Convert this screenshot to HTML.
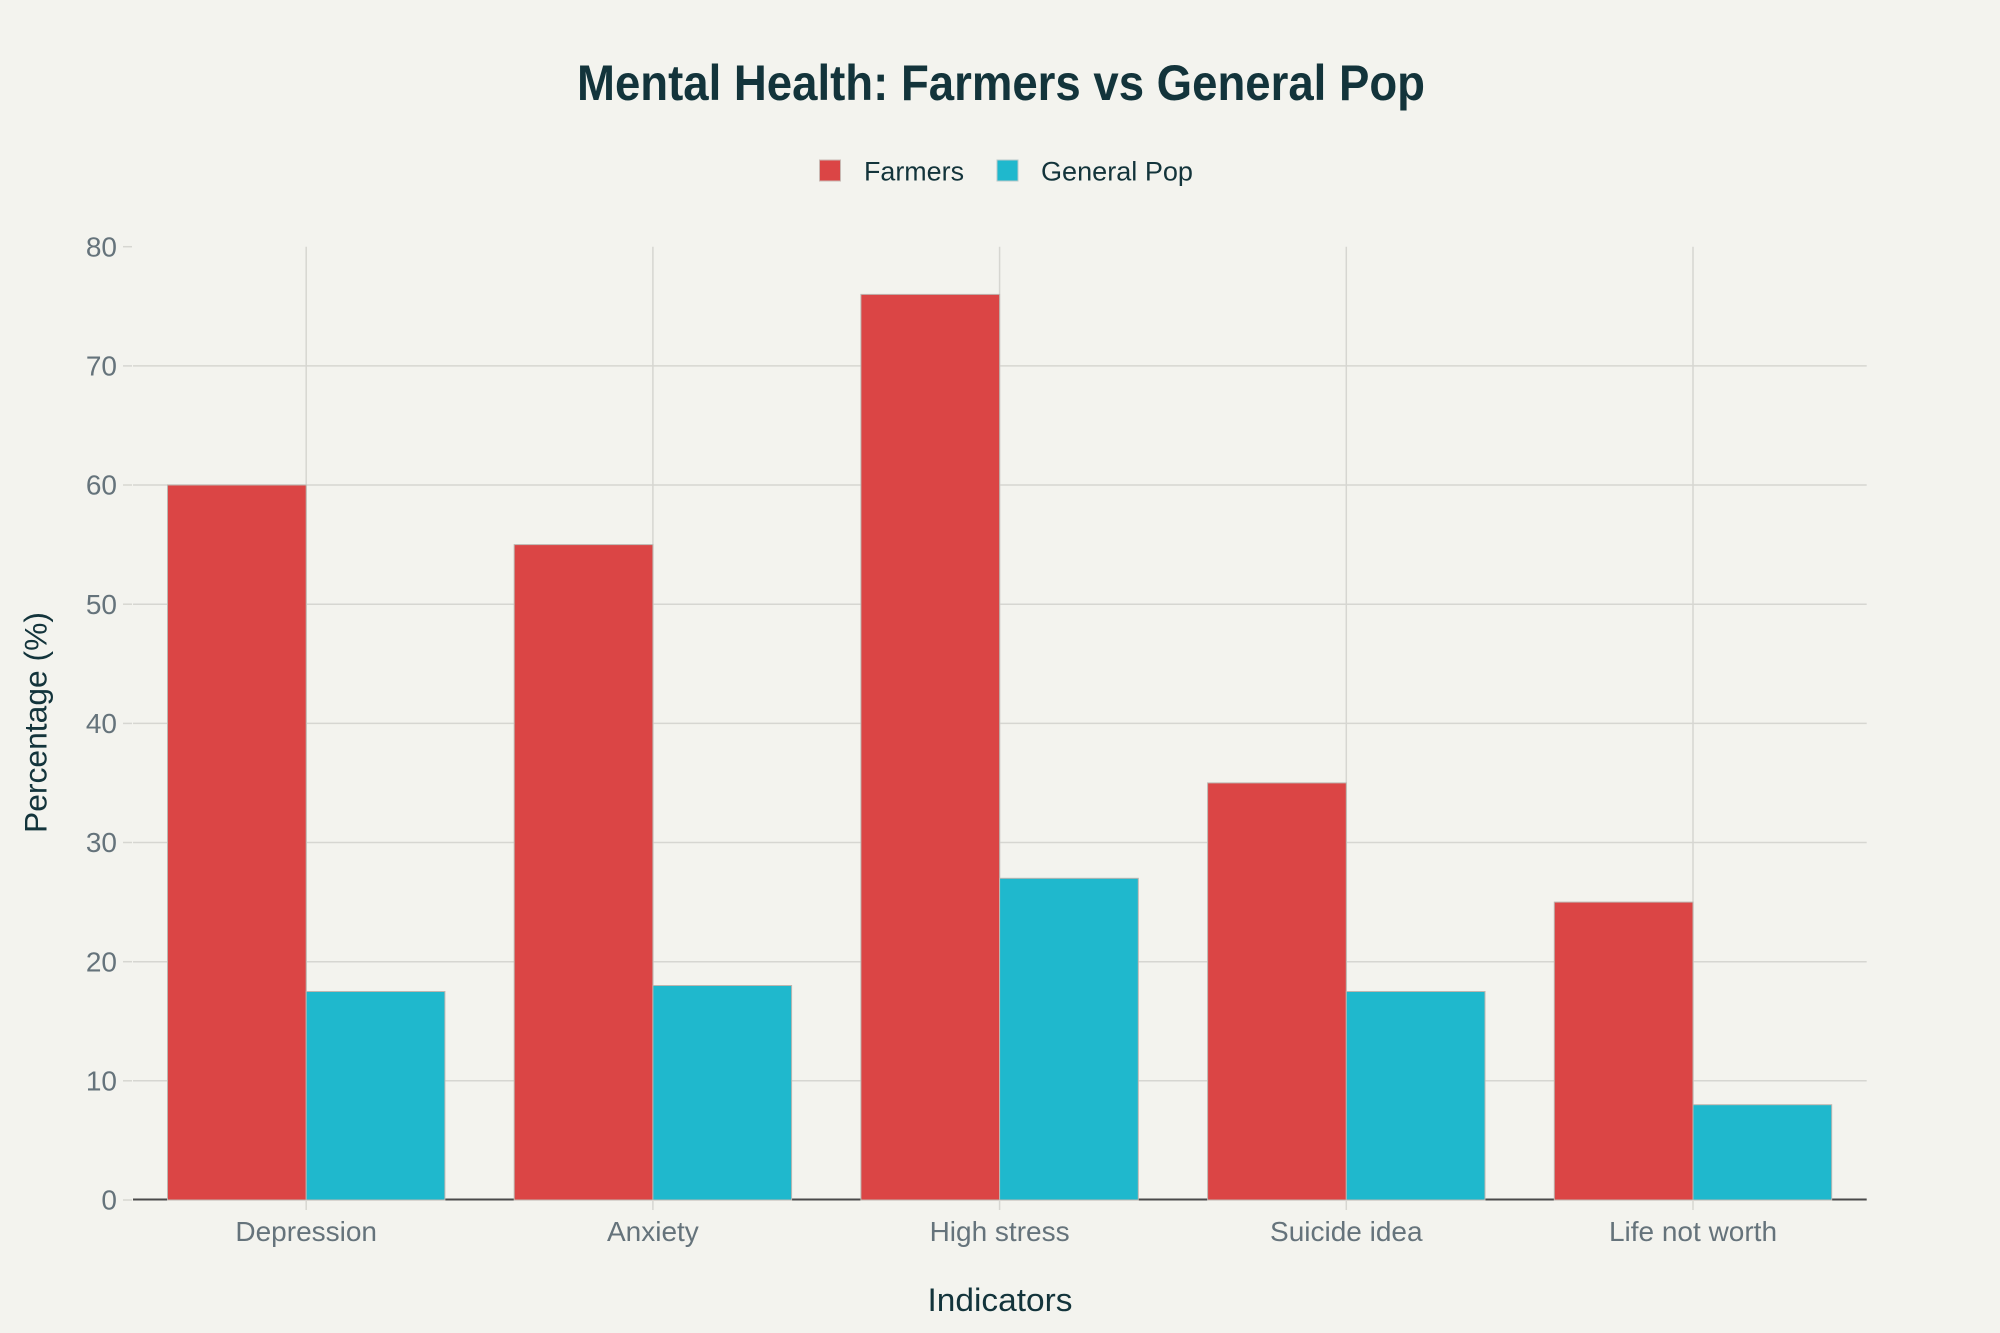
<!DOCTYPE html>
<html>
<head>
<meta charset="utf-8">
<style>
  html,body{margin:0;padding:0;background:#F3F3EE;}
  svg{display:block;}
</style>
</head>
<body>
<svg width="2000" height="1333" viewBox="0 0 2000 1333" xmlns="http://www.w3.org/2000/svg" font-family="'Liberation Sans', Arial, sans-serif">
  <rect x="0" y="0" width="2000" height="1333" fill="#F3F3EE"/>

  <!-- Title -->
  <text x="1001" y="100" text-anchor="middle" font-size="50" font-weight="bold" fill="#13343B" textLength="848" lengthAdjust="spacingAndGlyphs">Mental Health: Farmers vs General Pop</text>

  <!-- Legend -->
  <rect x="819.5" y="160" width="21" height="21" fill="#DB4545" stroke="#c9b9b4" stroke-width="1"/>
  <text x="864" y="180.7" font-size="27" fill="#13343B" textLength="100" lengthAdjust="spacingAndGlyphs">Farmers</text>
  <rect x="997" y="160" width="21" height="21" fill="#1FB8CD" stroke="#b9c9c9" stroke-width="1"/>
  <text x="1041" y="180.7" font-size="27" fill="#13343B" textLength="152" lengthAdjust="spacingAndGlyphs">General Pop</text>

  <!-- Horizontal gridlines -->
  <g stroke="#D6D6D1" stroke-width="1.5">
    <line x1="133" y1="1080.8" x2="1866.7" y2="1080.8"/>
    <line x1="133" y1="961.7" x2="1866.7" y2="961.7"/>
    <line x1="133" y1="842.5" x2="1866.7" y2="842.5"/>
    <line x1="133" y1="723.4" x2="1866.7" y2="723.4"/>
    <line x1="133" y1="604.2" x2="1866.7" y2="604.2"/>
    <line x1="133" y1="485.0" x2="1866.7" y2="485.0"/>
    <line x1="133" y1="365.9" x2="1866.7" y2="365.9"/>
  </g>
  <!-- Vertical gridlines -->
  <g stroke="#D6D6D1" stroke-width="1.5">
    <line x1="306.2" y1="246.7" x2="306.2" y2="1200"/>
    <line x1="652.9" y1="246.7" x2="652.9" y2="1200"/>
    <line x1="999.6" y1="246.7" x2="999.6" y2="1200"/>
    <line x1="1346.3" y1="246.7" x2="1346.3" y2="1200"/>
    <line x1="1693.0" y1="246.7" x2="1693.0" y2="1200"/>
  </g>

  <!-- Y tick marks -->
  <g stroke="#D6D6D1" stroke-width="1.5">
    <line x1="123" y1="1200" x2="132" y2="1200"/>
    <line x1="123" y1="1080.8" x2="132" y2="1080.8"/>
    <line x1="123" y1="961.7" x2="132" y2="961.7"/>
    <line x1="123" y1="842.5" x2="132" y2="842.5"/>
    <line x1="123" y1="723.4" x2="132" y2="723.4"/>
    <line x1="123" y1="604.2" x2="132" y2="604.2"/>
    <line x1="123" y1="485.0" x2="132" y2="485.0"/>
    <line x1="123" y1="365.9" x2="132" y2="365.9"/>
    <line x1="123" y1="246.7" x2="132" y2="246.7"/>
  </g>

  <!-- Zero line -->
  <line x1="133" y1="1199.5" x2="1866.7" y2="1199.5" stroke="#4a4a4a" stroke-width="2"/>

  <!-- Bars -->
  <g stroke="#bdb6b0" stroke-width="1">
    <!-- Depression -->
    <rect x="167.5" y="485.0" width="138.7" height="715.0" fill="#DB4545"/>
    <rect x="306.2" y="991.5" width="138.7" height="208.5" fill="#1FB8CD"/>
    <!-- Anxiety -->
    <rect x="514.2" y="544.6" width="138.7" height="655.4" fill="#DB4545"/>
    <rect x="652.9" y="985.5" width="138.7" height="214.5" fill="#1FB8CD"/>
    <!-- High stress -->
    <rect x="860.9" y="294.4" width="138.7" height="905.6" fill="#DB4545"/>
    <rect x="999.6" y="878.3" width="138.7" height="321.7" fill="#1FB8CD"/>
    <!-- Suicide idea -->
    <rect x="1207.6" y="782.9" width="138.7" height="417.1" fill="#DB4545"/>
    <rect x="1346.3" y="991.5" width="138.7" height="208.5" fill="#1FB8CD"/>
    <!-- Life not worth -->
    <rect x="1554.3" y="902.1" width="138.7" height="297.9" fill="#DB4545"/>
    <rect x="1693.0" y="1104.7" width="138.7" height="95.3" fill="#1FB8CD"/>
  </g>

  <!-- X tick marks -->
  <g stroke="#D6D6D1" stroke-width="1.5">
    <line x1="306.2" y1="1201" x2="306.2" y2="1210"/>
    <line x1="652.9" y1="1201" x2="652.9" y2="1210"/>
    <line x1="999.6" y1="1201" x2="999.6" y2="1210"/>
    <line x1="1346.3" y1="1201" x2="1346.3" y2="1210"/>
    <line x1="1693.0" y1="1201" x2="1693.0" y2="1210"/>
  </g>

  <!-- Y tick labels -->
  <g font-size="28" fill="#65737B" text-anchor="end">
    <text x="117" y="1209.6">0</text>
    <text x="117" y="1090.4">10</text>
    <text x="117" y="971.3">20</text>
    <text x="117" y="852.1">30</text>
    <text x="117" y="733.0">40</text>
    <text x="117" y="613.8">50</text>
    <text x="117" y="494.6">60</text>
    <text x="117" y="375.5">70</text>
    <text x="117" y="256.3">80</text>
  </g>

  <!-- X tick labels -->
  <g font-size="28" fill="#65737B" text-anchor="middle">
    <text x="306.2" y="1241">Depression</text>
    <text x="652.9" y="1241">Anxiety</text>
    <text x="999.6" y="1241">High stress</text>
    <text x="1346.3" y="1241">Suicide idea</text>
    <text x="1693.0" y="1241">Life not worth</text>
  </g>

  <!-- Axis titles -->
  <text x="1000" y="1311" text-anchor="middle" font-size="32" fill="#13343B" textLength="145" lengthAdjust="spacingAndGlyphs">Indicators</text>
  <text transform="translate(46.7,722.5) rotate(-90)" x="0" y="0" text-anchor="middle" font-size="31.5" fill="#13343B" textLength="221" lengthAdjust="spacingAndGlyphs">Percentage (%)</text>
</svg>
</body>
</html>
